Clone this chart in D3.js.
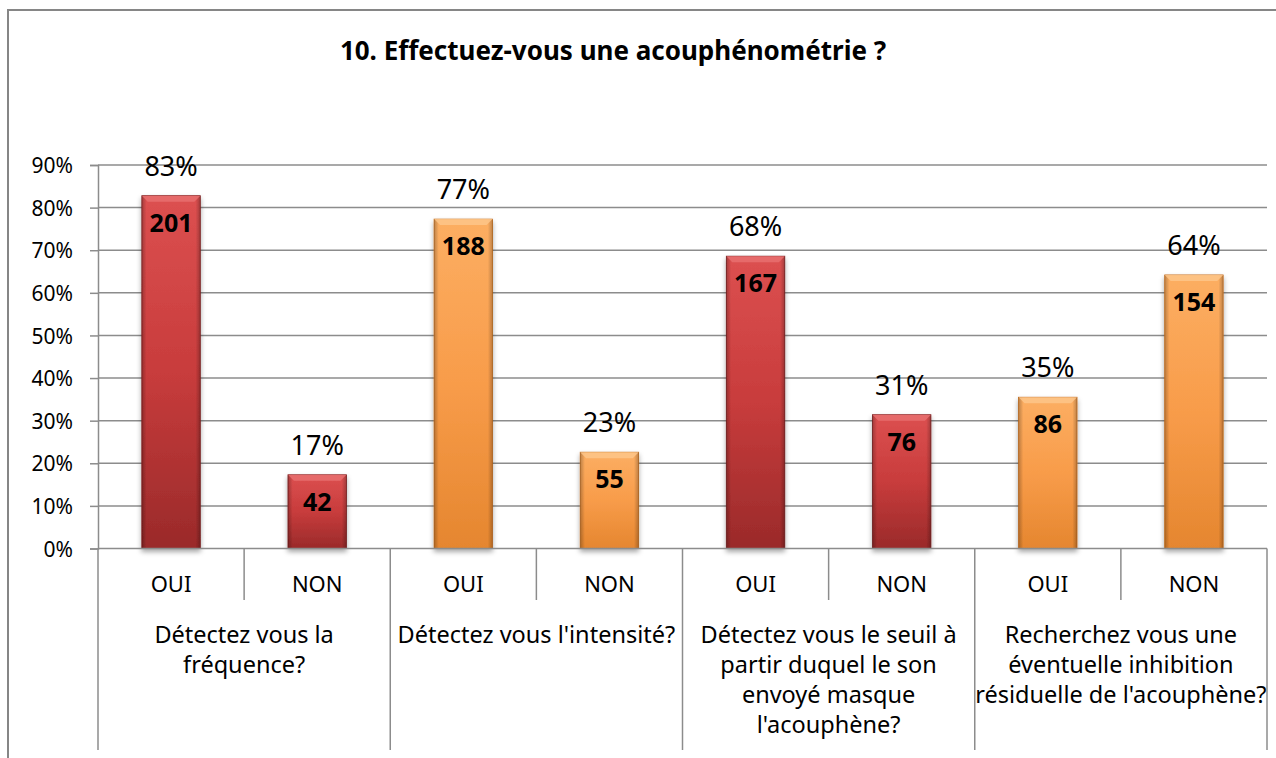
<!DOCTYPE html>
<html>
<head>
  <meta charset="utf-8">
  <script src="https://cdn.jsdelivr.net/npm/d3@7/dist/d3.min.js"></script>
  <title>Acouphénométrie</title>
  <style>
    body { margin: 0; background: #fff; }
    text { font-family: "Noto Sans", sans-serif; fill: #000; }
  </style>
</head>
<body>
<script>
  // data
  var answers = ["OUI", "NON", "OUI", "NON", "OUI", "NON", "OUI", "NON"];
  var percents = [82.8, 17.3, 77.3, 22.6, 68.6, 31.4, 35.5, 64.2];
  var percentLabels = ["83%", "17%", "77%", "23%", "68%", "31%", "35%", "64%"];
  var counts = [201, 42, 188, 55, 167, 76, 86, 154];
  var groupLines = [
    ["Détectez vous la", "fréquence?"],
    ["Détectez vous l'intensité?"],
    ["Détectez vous le seuil à", "partir duquel le son", "envoyé masque", "l'acouphène?"],
    ["Recherchez vous une", "éventuelle inhibition", "résiduelle de l'acouphène?"]
  ];
  var barTheme = ["red", "red", "orange", "orange", "red", "red", "orange", "orange"];
  var yTicks = [0, 10, 20, 30, 40, 50, 60, 70, 80, 90];

  var width = 1276, height = 758;
  var plot = { left: 98, right: 1267, top: 165, bottom: 548.5 };

  var svg = d3.select("body").append("svg")
              .attr("width", width)
              .attr("height", height);

  var defs = svg.append("defs");

  // gradients for the bevelled bars
  var themes = {
    red:    { light: "#dc5050", mid: "#c83c3c", dark: "#9a2a2a", edge: "#7e2020", top: "#e87070" },
    orange: { light: "#fcae62", mid: "#f89c4a", dark: "#e5862f", edge: "#c8701f", top: "#fdc689" }
  };
  Object.keys(themes).forEach(function(k){
    var t = themes[k];
    var v = defs.append("linearGradient").attr("id", "v_" + k)
                .attr("x1", 0).attr("y1", 0).attr("x2", 0).attr("y2", 1);
    v.append("stop").attr("offset", "0%").attr("stop-color", t.light);
    v.append("stop").attr("offset", "50%").attr("stop-color", t.mid);
    v.append("stop").attr("offset", "100%").attr("stop-color", t.dark);
  });
  var side = defs.append("linearGradient").attr("id", "sides")
                 .attr("x1", 0).attr("y1", 0).attr("x2", 1).attr("y2", 0);
  side.append("stop").attr("offset", "0%").attr("stop-color", "#000").attr("stop-opacity", 0.25);
  side.append("stop").attr("offset", "8%").attr("stop-color", "#000").attr("stop-opacity", 0);
  side.append("stop").attr("offset", "92%").attr("stop-color", "#000").attr("stop-opacity", 0);
  side.append("stop").attr("offset", "100%").attr("stop-color", "#000").attr("stop-opacity", 0.25);

  var shadow = defs.append("filter").attr("id", "shadow")
                   .attr("x", "-20%").attr("y", "-10%").attr("width", "140%").attr("height", "125%");
  shadow.append("feDropShadow").attr("dx", 0).attr("dy", 3).attr("stdDeviation", 2.5)
        .attr("flood-color", "#000").attr("flood-opacity", 0.35);

  // outer frame
  svg.append("path")
     .attr("d", "M8,770 V10 H1290")
     .attr("fill", "none")
     .attr("stroke", "#868686")
     .attr("stroke-width", 2);

  // title
  svg.append("text")
     .attr("x", 613)
     .attr("y", 60)
     .attr("text-anchor", "middle")
     .style("font-size", "26px")
     .style("font-weight", "bold")
     .text("10. Effectuez-vous une acouphénométrie ?");

  // scales
  var x = d3.scaleBand()
            .domain(d3.range(answers.length))
            .range([plot.left, plot.right])
            .paddingInner(0.6)
            .paddingOuter(0.3);

  var y = d3.scaleLinear()
            .domain([0, 90])
            .range([plot.bottom, plot.top]);

  // gridlines
  svg.append("g")
     .selectAll("line")
     .data(yTicks.slice(1))
     .enter()
     .append("line")
     .attr("x1", plot.left)
     .attr("x2", plot.right)
     .attr("y1", function(d){ return y(d); })
     .attr("y2", function(d){ return y(d); })
     .attr("stroke", "#8c8c8c")
     .attr("stroke-width", 1.5);

  // y axis
  var yAxis = svg.append("g")
     .attr("transform", "translate(" + plot.left + ",0)")
     .call(d3.axisLeft(y)
             .tickValues(yTicks)
             .tickSize(8)
             .tickPadding(17)
             .tickFormat(function(d){ return d + "%"; }));
  yAxis.select(".domain").attr("stroke", "#8c8c8c").attr("stroke-width", 1.5);
  yAxis.selectAll(".tick line").attr("stroke", "#8c8c8c").attr("stroke-width", 1.5);
  yAxis.selectAll(".tick text")
       .style("font-size", "21px")
       .style("font-family", "Noto Sans, sans-serif")
       .attr("fill", "#000")
       .attr("dy", "0.36em");

  // bars
  var bars = svg.append("g")
                .selectAll("g.bar")
                .data(percents)
                .enter()
                .append("g")
                .attr("class", "bar")
                .attr("filter", "url(#shadow)");

  bars.append("rect")
      .attr("x", function(d, i){ return x(i); })
      .attr("y", function(d){ return y(d); })
      .attr("width", x.bandwidth())
      .attr("height", function(d){ return y(0) - y(d); })
      .attr("fill", function(d, i){ return "url(#v_" + barTheme[i] + ")"; })
      .attr("stroke", function(d, i){ return themes[barTheme[i]].edge; })
      .attr("stroke-width", 0.8);

  bars.append("rect")
      .attr("x", function(d, i){ return x(i); })
      .attr("y", function(d){ return y(d); })
      .attr("width", x.bandwidth())
      .attr("height", function(d){ return y(0) - y(d); })
      .attr("fill", "url(#sides)");

  // top bevel
  var bev = 6;
  bars.append("path")
      .attr("d", function(d, i){
        var x0 = x(i), x1 = x(i) + x.bandwidth(), t = y(d);
        return "M" + x0 + "," + t + "L" + x1 + "," + t +
               "L" + (x1 - bev) + "," + (t + bev) + "L" + (x0 + bev) + "," + (t + bev) + "Z";
      })
      .attr("fill", function(d, i){ return themes[barTheme[i]].top; })
      .attr("opacity", 0.85);

  // percent labels above bars
  svg.append("g")
     .selectAll("text")
     .data(percents)
     .enter()
     .append("text")
     .attr("x", function(d, i){ return x(i) + x.bandwidth() / 2; })
     .attr("y", function(d){ return y(d) - 20; })
     .attr("text-anchor", "middle")
     .style("font-size", "27px")
     .text(function(d, i){ return percentLabels[i]; });

  // counts inside bars
  svg.append("g")
     .selectAll("text")
     .data(counts)
     .enter()
     .append("text")
     .attr("x", function(d, i){ return x(i) + x.bandwidth() / 2; })
     .attr("y", function(d, i){ return y(percents[i]) + 36; })
     .attr("text-anchor", "middle")
     .style("font-size", "25px")
     .style("font-weight", "bold")
     .text(function(d){ return d; });

  // x axis, two levels
  var step = x.step();
  var axisG = svg.append("g");
  axisG.append("line")
       .attr("x1", plot.left).attr("x2", plot.right)
       .attr("y1", plot.bottom).attr("y2", plot.bottom)
       .attr("stroke", "#8c8c8c").attr("stroke-width", 1.5);

  // separators between OUI / NON
  axisG.selectAll("line.inner")
       .data(d3.range(groupLines.length))
       .enter()
       .append("line")
       .attr("class", "inner")
       .attr("x1", function(g){ return plot.left + step * (2 * g + 1); })
       .attr("x2", function(g){ return plot.left + step * (2 * g + 1); })
       .attr("y1", plot.bottom)
       .attr("y2", 600)
       .attr("stroke", "#8c8c8c").attr("stroke-width", 1.5);

  // separators between groups
  axisG.selectAll("line.outer")
       .data(d3.range(groupLines.length + 1))
       .enter()
       .append("line")
       .attr("class", "outer")
       .attr("x1", function(g){ return plot.left + step * 2 * g; })
       .attr("x2", function(g){ return plot.left + step * 2 * g; })
       .attr("y1", plot.bottom)
       .attr("y2", 750)
       .attr("stroke", "#8c8c8c").attr("stroke-width", 1.5);

  axisG.selectAll("text.answer")
       .data(answers)
       .enter()
       .append("text")
       .attr("class", "answer")
       .attr("x", function(d, i){ return x(i) + x.bandwidth() / 2; })
       .attr("y", 592)
       .attr("text-anchor", "middle")
       .style("font-size", "22px")
       .text(function(d){ return d; });

  var groupText = axisG.selectAll("text.group")
       .data(groupLines)
       .enter()
       .append("text")
       .attr("class", "group")
       .attr("text-anchor", "middle")
       .style("font-size", "23.5px");

  groupText.selectAll("tspan")
       .data(function(lines, g){ return lines.map(function(l){ return { text: l, g: g }; }); })
       .enter()
       .append("tspan")
       .attr("x", function(d){ return plot.left + step * (2 * d.g + 1); })
       .attr("y", function(d, i){ return 643 + i * 30; })
       .text(function(d){ return d.text; });
</script>
</body>
</html>
